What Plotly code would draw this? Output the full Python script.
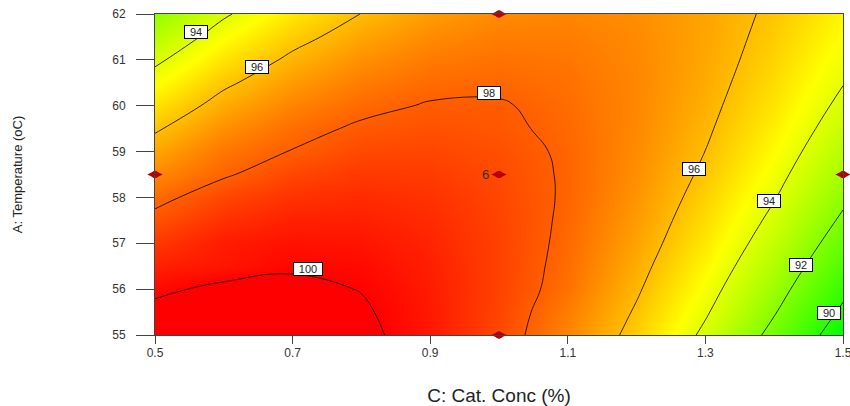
import plotly.graph_objects as go

# ---- data ----
cat_conc = [0.5, 0.6, 0.7, 0.8, 0.9, 1.0, 1.1, 1.2, 1.3, 1.4, 1.5]
temperature = [55, 55.5, 56, 56.5, 57, 57.5, 58, 58.5, 59, 59.5, 60, 60.5, 61, 61.5, 62]
# response (yield) on the grid: rows = temperature, cols = cat_conc
yield_grid = [
    [100.69, 100.89, 100.71, 100.25, 99.51, 98.49, 97.19, 95.61, 93.75, 91.61, 89.19],
    [100.26, 100.56, 100.48, 100.12, 99.48, 98.56, 97.36, 95.88, 94.13, 92.09, 89.77],
    [99.81, 100.21, 100.23, 99.97, 99.43, 98.61, 97.60, 96.13, 94.47, 92.53, 90.31],
    [99.33, 99.55, 99.88, 99.79, 99.35, 98.63, 97.69, 96.35, 94.79, 92.95, 90.83],
    [98.82, 99.42, 99.64, 99.58, 99.24, 98.62, 97.77, 96.55, 95.09, 93.35, 91.33],
    [98.28, 98.98, 99.31, 99.35, 99.11, 98.59, 97.83, 96.71, 95.35, 93.72, 91.80],
    [97.72, 98.52, 98.94, 99.09, 98.95, 98.53, 97.88, 96.85, 95.59, 94.06, 92.24],
    [97.13, 97.89, 98.55, 98.80, 98.76, 98.44, 97.89, 96.96, 95.81, 94.37, 92.65],
    [96.51, 97.52, 98.04, 98.48, 98.54, 98.33, 97.87, 97.05, 95.99, 94.65, 93.04],
    [95.87, 96.97, 97.70, 98.14, 98.30, 98.18, 97.79, 97.11, 96.15, 94.91, 93.40],
    [95.20, 96.40, 97.23, 97.77, 98.07, 98.08, 97.72, 97.14, 96.28, 95.15, 93.73],
    [94.50, 95.81, 96.73, 97.37, 97.74, 97.82, 97.62, 97.15, 96.39, 95.35, 94.04],
    [93.78, 95.18, 96.21, 96.95, 97.41, 97.60, 97.50, 97.12, 96.47, 95.53, 94.31],
    [93.03, 94.53, 95.66, 96.50, 97.06, 97.35, 97.35, 97.07, 96.52, 95.68, 94.57],
    [92.25, 93.85, 95.08, 96.02, 96.69, 97.07, 97.17, 97.00, 96.54, 95.81, 94.79],
]
contour_start, contour_end, contour_step = 90, 100, 2

design_conc = [0.5, 1.0, 1.5, 1.0, 1.0]
design_temp = [58.5, 58.5, 58.5, 55.0, 62.0]
center_reps = "6"

label_text = ["94", "96", "98", "100", "96", "94", "92", "90"]
label_conc = [0.560, 0.648, 0.986, 0.723, 1.284, 1.393, 1.439, 1.480]
label_temp = [61.60, 60.85, 60.28, 56.45, 58.62, 57.92, 56.53, 55.49]

x_ticks = [0.5, 0.7, 0.9, 1.1, 1.3, 1.5]
x_ticktext = ["0.5", "0.7", "0.9", "1.1", "1.3", "1.5"]
y_ticks = [55, 56, 57, 58, 59, 60, 61, 62]

FONT = "Liberation Sans, Arial, sans-serif"

fig = go.Figure()
fig.add_trace(go.Heatmap(
    x=cat_conc, y=temperature, z=yield_grid, zsmooth="best",
    colorscale=[[0, "rgb(0,255,0)"], [0.5, "rgb(255,255,0)"], [1, "rgb(255,0,0)"]],
    zmin=89.2, zmax=100.0, showscale=False, hoverinfo="skip"))
fig.add_trace(go.Contour(
    x=cat_conc, y=temperature, z=yield_grid,
    contours=dict(start=contour_start, end=contour_end, size=contour_step, coloring="none"),
    line=dict(color="black", width=0.8, smoothing=1.3),
    showscale=False, hoverinfo="skip"))
# design points (ellipse-like)
fig.add_trace(go.Scatter(
    x=design_conc, y=design_temp, mode="markers", cliponaxis=False,
    marker=dict(symbol="diamond-wide", size=11, color="#B80000", line=dict(width=0)),
    hoverinfo="skip", showlegend=False))
fig.add_trace(go.Scatter(
    x=design_conc, y=design_temp, mode="markers", cliponaxis=False,
    marker=dict(symbol="circle", size=7, color="#B80000", line=dict(width=0)),
    hoverinfo="skip", showlegend=False))

annotations = []
for t, cx, ty in zip(label_text, label_conc, label_temp):
    annotations.append(dict(
        x=cx, y=ty, xref="x", yref="y", text=t, showarrow=False,
        font=dict(family=FONT, size=11, color="#222"),
        bgcolor="white", bordercolor="black", borderwidth=1, borderpad=0,
        width=22 if len(t) == 2 else 28, height=12))
annotations.append(dict(
    x=design_conc[1], y=design_temp[1], xref="x", yref="y", text=center_reps,
    showarrow=False, xshift=-14, font=dict(family=FONT, size=13, color="#333")))

fig.update_layout(
    width=850, height=406,
    margin=dict(l=155, r=7, t=14, b=71),
    paper_bgcolor="white", plot_bgcolor="white",
    font=dict(family=FONT, color="#333"),
    showlegend=False,
    annotations=annotations,
    xaxis=dict(range=[0.5, 1.5], tickvals=x_ticks, ticktext=x_ticktext,
               ticks="outside", ticklen=8, tickcolor="#444", tickwidth=1,
               showline=True, linecolor="#444", linewidth=1, mirror=True,
               showgrid=False, zeroline=False, automargin=False,
               ticklabelstandoff=-1, ticklabeloverflow="allow",
               tickfont=dict(size=12, color="#333"),
               title=dict(text="C: Cat. Conc (%)", font=dict(size=19, color="#222"), standoff=29)),
    yaxis=dict(range=[55, 62], tickvals=y_ticks,
               ticks="outside", ticklen=18, tickcolor="#444", tickwidth=1,
               showline=True, linecolor="#444", linewidth=1, mirror=True,
               showgrid=False, zeroline=False, automargin=False,
               ticklabelstandoff=8, ticklabeloverflow="allow",
               tickfont=dict(size=12, color="#333"),
               title=dict(text="A: Temperature (oC)", font=dict(size=13, color="#222"), standoff=86)),
)

fig.write_html("out.html", config={"displayModeBar": False},
               post_script="document.body.style.margin='0';")
